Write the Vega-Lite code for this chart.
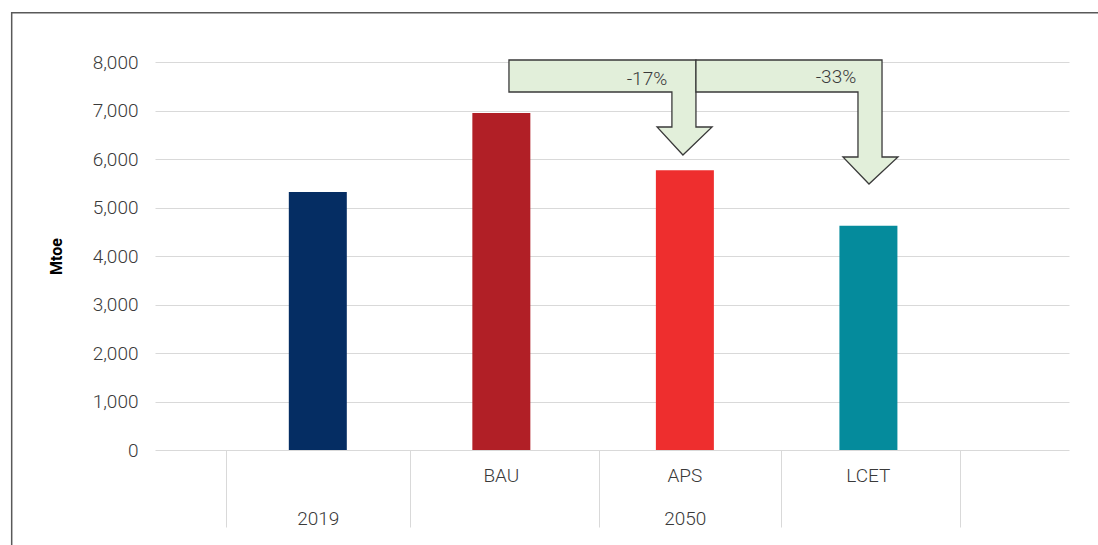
{
  "$schema": "https://vega.github.io/schema/vega-lite/v6.json",
  "width": 914,
  "height": 388,
  "autosize": {"type": "none"},
  "padding": {"left": 155, "top": 62, "right": 29, "bottom": 95},
  "background": "white",
  "config": {
    "font": "Roboto",
    "view": {"stroke": null},
    "axis": {"labelFont": "Roboto", "labelColor": "#3a3a3a", "labelFontSize": 19, "labelFontWeight": 300, "titleFont": "Roboto"},
    "axisY": {"values": [0, 1000, 2000, 3000, 4000, 5000, 6000, 7000, 8000], "labelExpr": "format(datum.value, ',')", "ticks": false, "domain": false, "grid": true, "gridColor": "#d9d9d9", "gridWidth": 1, "labelPadding": 17, "titleFontSize": 16, "titleFontWeight": "bold", "titleColor": "#000000", "titlePadding": 28}
  },
  "datasets": {
    "bars": [
      {"cat": "2019", "value": 5320},
      {"cat": "BAU", "value": 6950},
      {"cat": "APS", "value": 5770},
      {"cat": "LCET", "value": 4625}
    ],
    "arrows": [
      {"id": "a", "i": 1, "x": 1.042, "y": 8041},
      {"id": "a", "i": 2, "x": 2.061, "y": 8041},
      {"id": "a", "i": 3, "x": 2.061, "y": 6660},
      {"id": "a", "i": 4, "x": 2.149, "y": 6660},
      {"id": "a", "i": 5, "x": 1.990, "y": 6082},
      {"id": "a", "i": 6, "x": 1.849, "y": 6660},
      {"id": "a", "i": 7, "x": 1.930, "y": 6660},
      {"id": "a", "i": 8, "x": 1.930, "y": 7381},
      {"id": "a", "i": 9, "x": 1.042, "y": 7381},
      {"id": "b", "i": 1, "x": 2.061, "y": 8041},
      {"id": "b", "i": 2, "x": 3.075, "y": 8041},
      {"id": "b", "i": 3, "x": 3.075, "y": 6041},
      {"id": "b", "i": 4, "x": 3.162, "y": 6041},
      {"id": "b", "i": 5, "x": 3.004, "y": 5485},
      {"id": "b", "i": 6, "x": 2.862, "y": 6041},
      {"id": "b", "i": 7, "x": 2.944, "y": 6041},
      {"id": "b", "i": 8, "x": 2.944, "y": 7381},
      {"id": "b", "i": 9, "x": 2.061, "y": 7381}
    ],
    "notes": [
      {"label": "-17%", "x": 1.794, "y": 7650},
      {"label": "-33%", "x": 2.824, "y": 7690}
    ]
  },
  "resolve": {"scale": {"x": "independent"}, "axis": {"x": "independent"}},
  "layer": [
    {
      "data": {"values": [{}]},
      "mark": {"type": "rect", "fill": null, "stroke": "#595959", "strokeWidth": 1.5},
      "encoding": {
        "x": {
          "datum": -1.668, "type": "quantitative",
          "scale": {"domain": [-0.887, 4.094], "nice": false, "zero": false},
          "axis": {"orient": "bottom", "title": null, "values": [0, 2], "labelExpr": "datum.value == 0 ? '2019' : '2050'", "ticks": false, "domain": false, "grid": false, "labelPadding": 59}
        },
        "x2": {"datum": 6},
        "y": {"datum": 9014, "type": "quantitative", "scale": {"domain": [0, 8000], "nice": false}, "title": "Mtoe"},
        "y2": {"datum": -5000}
      }
    },
    {
      "data": {"name": "bars"},
      "mark": {"type": "bar", "width": {"band": 0.316}},
      "encoding": {
        "x": {
          "field": "cat", "type": "nominal", "sort": ["2019", "BAU", "APS", "LCET"],
          "scale": {"domain": ["2019", "BAU", "APS", "LCET"], "paddingInner": 0, "paddingOuter": 0.49, "align": 0.395},
          "axis": {"orient": "bottom", "title": null, "labelAngle": 0, "labelExpr": "datum.value == '2019' ? '' : datum.value", "ticks": false, "domain": false, "grid": false, "labelPadding": 16}
        },
        "y": {"field": "value", "type": "quantitative", "scale": {"domain": [0, 8000], "nice": false}, "title": "Mtoe"},
        "color": {
          "field": "cat", "type": "nominal",
          "scale": {"domain": ["2019", "BAU", "APS", "LCET"], "range": ["#052d63", "#b11f26", "#ee2e2e", "#058b9c"]},
          "legend": null
        }
      }
    },
    {
      "data": {"name": "arrows"},
      "mark": {"type": "line", "interpolate": "linear-closed", "fill": "#e2efda", "stroke": "#3a3a3a", "strokeWidth": 1.3, "strokeJoin": "miter"},
      "encoding": {
        "x": {
          "field": "x", "type": "quantitative",
          "scale": {"domain": [-0.887, 4.094], "nice": false, "zero": false},
          "axis": {"orient": "bottom", "title": null, "values": [-0.5, 0.5, 1.533, 2.525, 3.5], "labels": false, "ticks": true, "tickSize": 77, "tickColor": "#d9d9d9", "tickWidth": 1, "domain": false, "grid": false}
        },
        "y": {"field": "y", "type": "quantitative", "scale": {"domain": [0, 8000], "nice": false}, "title": "Mtoe"},
        "detail": {"field": "id"},
        "order": {"field": "i", "type": "quantitative"}
      }
    },
    {
      "data": {"name": "notes"},
      "mark": {"type": "text", "font": "Roboto", "fontSize": 19, "fontWeight": 300, "color": "#3a3a3a", "baseline": "middle", "align": "center"},
      "encoding": {
        "x": {"field": "x", "type": "quantitative", "scale": {"domain": [-0.887, 4.094], "nice": false, "zero": false}, "axis": null},
        "y": {"field": "y", "type": "quantitative", "scale": {"domain": [0, 8000], "nice": false}, "title": "Mtoe"},
        "text": {"field": "label"}
      }
    }
  ]
}
